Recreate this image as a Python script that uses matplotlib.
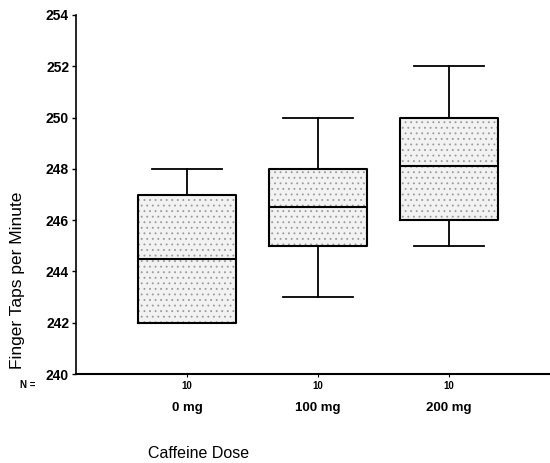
import numpy as np
import matplotlib.pyplot as plt

plt.rcParams['font.family'] = ['Liberation Sans', 'DejaVu Sans']
plt.rcParams['hatch.linewidth'] = 0.6

doses = ['0 mg', '100 mg', '200 mg']
counts = [10, 10, 10]
whislo = [242, 243, 245]
q1 = [242, 245, 246]
med = [244.5, 246.5, 248.1]
q3 = [247, 248, 250]
whishi = [248, 250, 252]

stats = []
for i in range(len(doses)):
    stats.append(dict(label=doses[i], whislo=whislo[i], q1=q1[i], med=med[i],
                      q3=q3[i], whishi=whishi[i], fliers=[]))

fig = plt.figure(figsize=(5.5, 4.63), dpi=100)
ax = fig.add_axes([76/550, 1-374/463, 1-76/550, (374-15)/463])

pos = np.arange(1, len(doses)+1)
# stipple fill (hatch takes the edge colour, so draw it grey first)
ax.bxp(stats, positions=pos, widths=0.75, patch_artist=True, showfliers=False,
       boxprops=dict(facecolor='#f2f2f2', edgecolor='#9a9a9a', linewidth=0, hatch='...'),
       medianprops=dict(linewidth=0), whiskerprops=dict(linewidth=0),
       capprops=dict(linewidth=0))
# black outlines on top
ax.bxp(stats, positions=pos, widths=0.75, showfliers=False,
       boxprops=dict(color='black', linewidth=1.5),
       medianprops=dict(color='black', linewidth=1.5),
       whiskerprops=dict(color='black', linewidth=1.3),
       capprops=dict(color='black', linewidth=1.3),
       capwidths=0.53)

ax.set_xlim(1-111/131, 3+101/131)
ax.set_ylim(240, 254)
ax.set_yticks(np.arange(240, 255, 2))
ax.tick_params(axis='y', labelsize=10, length=3, width=1, pad=2)
for t in ax.get_yticklabels():
    t.set_fontweight('bold')
ax.set_xticks(pos)
ax.set_xticklabels([str(c) for c in counts], fontsize=7, fontweight='bold')
ax.tick_params(axis='x', length=2, pad=3)
ax.spines['top'].set_visible(False)
ax.spines['right'].set_visible(False)
ax.spines['left'].set_linewidth(1.2)
ax.spines['bottom'].set_linewidth(1.5)

for i, d in enumerate(doses):
    ax.text(pos[i], -0.095, d, transform=ax.get_xaxis_transform(),
            ha='center', va='center', fontsize=9.5, fontweight='bold')
fig.text(20/550, 1-385/463, 'N =', fontsize=7, fontweight='bold', va='center', ha='left')
fig.text(18/550, 1-280/463, 'Finger Taps per Minute', rotation=90,
         fontsize=12.5, va='center', ha='center')
fig.text(148/550, 1-453/463, 'Caffeine Dose', fontsize=11.5, va='center', ha='left')

fig.savefig('out.png', dpi=100)
